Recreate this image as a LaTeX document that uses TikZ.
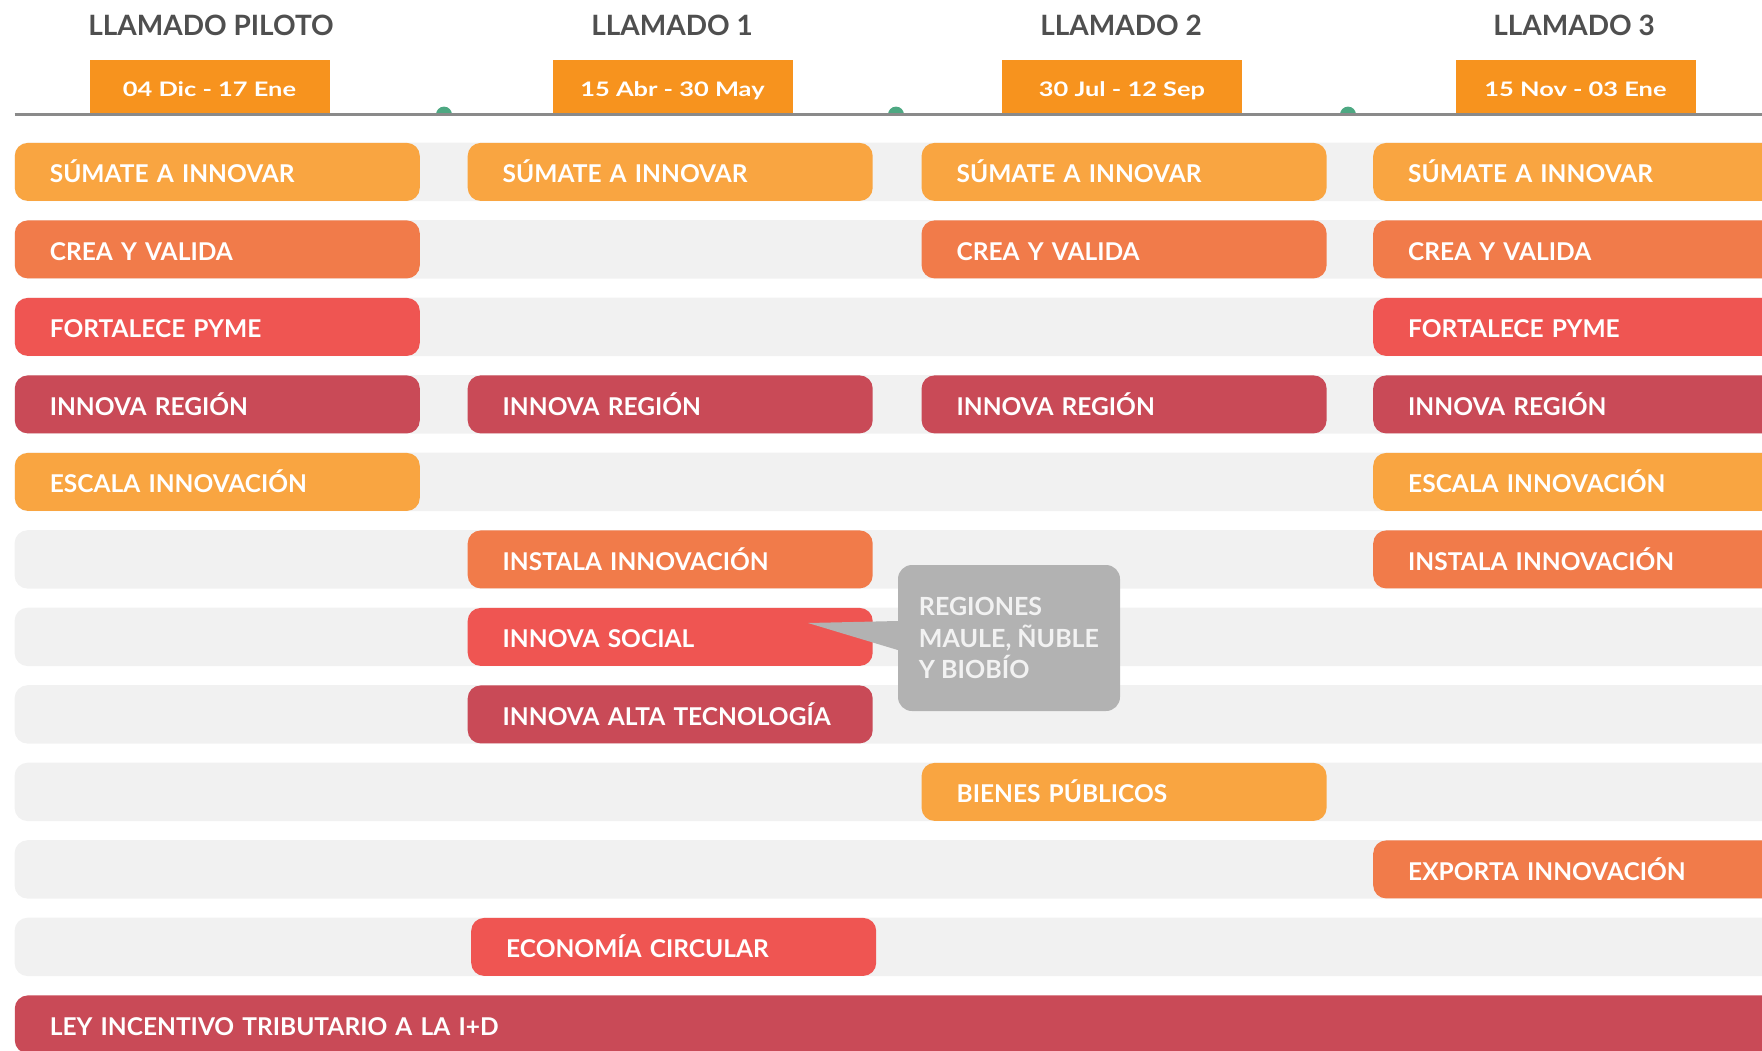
\documentclass[tikz,border=0pt]{standalone}
\usepackage{fontspec}
\setmainfont{Lato}
\definecolor{cA}{HTML}{F9A541}
\definecolor{cB}{HTML}{F17B4A}
\definecolor{cC}{HTML}{EF5552}
\definecolor{cD}{HTML}{C94A57}
\definecolor{dateor}{HTML}{F7931E}
\definecolor{rowgrey}{HTML}{F1F1F1}
\definecolor{hdr}{HTML}{4F4F4F}
\definecolor{tline}{HTML}{8A8A8A}
\definecolor{dotgreen}{HTML}{4DA882}
\definecolor{callgrey}{HTML}{B2B2B2}
\definecolor{calltext}{HTML}{F2F2F2}
\newcommand{\datetxt}[1]{\scalebox{1.27}[1]{#1}}
\begin{document}
\begin{tikzpicture}[x=1pt,y=-1pt,
  prog/.style={fill=#1, rounded corners=13pt, anchor=west, minimum height=58pt,
    inner xsep=35pt, inner ysep=0pt, text width=335pt, align=left,
    text height=21.5pt, text depth=0pt, text=white,
    font=\fontsize{24.5}{27}\selectfont\bfseries},
  wide/.style={text width=420pt},
  hdrtext/.style={text=hdr, font=\fontsize{28}{30}\selectfont\bfseries, inner sep=0pt,
    text height=20pt, text depth=0pt},
  datebox/.style={fill=dateor, minimum width=240pt, minimum height=54.5pt, inner sep=0pt,
    text=white, font=\fontsize{20}{24}\selectfont\bfseries, text height=18.4pt, text depth=0pt},
  rowbar/.style={fill=rowgrey, rounded corners=13pt},
  callout/.style={fill=callgrey, rounded corners=14pt, minimum width=222pt, minimum height=146pt,
    inner sep=0pt, align=left, text=calltext,
    font=\fontsize{25}{31.5}\selectfont\bfseries}
]
\useasboundingbox (0,0) rectangle (1762,1050);
\clip (0,0) rectangle (1762,1050);

% row backgrounds
\foreach \i in {0,...,10}{
  \pgfmathsetmacro{\yc}{171.9+77.5*\i}
  \fill[rowbar] (14.6,\yc-29.2) rectangle (1800,\yc+29.2);
}

% headers and dates
\node[hdrtext] (h0) at (211,25) {LLAMADO PILOTO};
\node[hdrtext] (h1) at (672,25) {LLAMADO 1};
\node[hdrtext] (h2) at (1121,25) {LLAMADO 2};
\node[hdrtext] (h3) at (1574,25) {LLAMADO 3};
\node[datebox] (d0) at (209.5,87.7) {\datetxt{04 Dic - 17 Ene}};
\node[datebox] (d1) at (672.5,87.7) {\datetxt{15 Abr - 30 May}};
\node[datebox] (d2) at (1122,87.7) {\datetxt{30 Jul - 12 Sep}};
\node[datebox] (d3) at (1575.5,87.7) {\datetxt{15 Nov - 03 Ene}};

% green markers
\begin{scope}
  \clip (0,0) rectangle (1762,114.6);
  \foreach \x in {444,896,1348}{\fill[dotgreen] (\x,114.6) circle[radius=8pt];}
\end{scope}
\coordinate (tl0) at (14.6,114.6);
\coordinate (tl1) at (1762,114.6);
\draw[tline, line width=2.5pt] (tl0) -- (tl1);

% column 0 (piloto)
\node[prog=cA] (p0a) at (14.6,171.9) {SÚMATE A INNOVAR};
\node[prog=cB] (p0b) at (14.6,249.4) {CREA Y VALIDA};
\node[prog=cC] (p0c) at (14.6,326.9) {FORTALECE PYME};
\node[prog=cD] (p0d) at (14.6,404.4) {INNOVA REGIÓN};
\node[prog=cA] (p0e) at (14.6,481.9) {ESCALA INNOVACIÓN};

% column 1
\node[prog=cA] (p1a) at (467.5,171.9) {SÚMATE A INNOVAR};
\node[prog=cD] (p1d) at (467.5,404.4) {INNOVA REGIÓN};
\node[prog=cB] (p1f) at (467.5,559.4) {INSTALA INNOVACIÓN};
\node[prog=cC] (p1g) at (467.5,636.9) {INNOVA SOCIAL};
\node[prog=cD] (p1h) at (467.5,714.4) {INNOVA ALTA TECNOLOGÍA};
\node[prog=cC] (p1k) at (471,946.9) {ECONOMÍA CIRCULAR};

% column 2
\node[prog=cA] (p2a) at (921.4,171.9) {SÚMATE A INNOVAR};
\node[prog=cB] (p2b) at (921.4,249.4) {CREA Y VALIDA};
\node[prog=cD] (p2d) at (921.4,404.4) {INNOVA REGIÓN};
\node[prog=cA] (p2i) at (921.4,791.9) {BIENES PÚBLICOS};

% column 3
\node[prog=cA, wide] (p3a) at (1373,171.9) {SÚMATE A INNOVAR};
\node[prog=cB, wide] (p3b) at (1373,249.4) {CREA Y VALIDA};
\node[prog=cC, wide] (p3c) at (1373,326.9) {FORTALECE PYME};
\node[prog=cD, wide] (p3d) at (1373,404.4) {INNOVA REGIÓN};
\node[prog=cA, wide] (p3e) at (1373,481.9) {ESCALA INNOVACIÓN};
\node[prog=cB, wide] (p3f) at (1373,559.4) {INSTALA INNOVACIÓN};
\node[prog=cB, wide] (p3j) at (1373,869.4) {EXPORTA INNOVACIÓN};

% bottom full-width bar
\node[prog=cD, text width=1760pt] (ley) at (14.6,1024.4) {LEY INCENTIVO TRIBUTARIO A LA I+D};

% callout
\node[callout] (call) at (1009,638) {REGIONES\\MAULE, ÑUBLE\\Y BIOBÍO};
\coordinate (tip) at (808,623);
\fill[callgrey] (tip) -- (call.west |- 0,621) -- (call.west |- 0,650) -- cycle;
\end{tikzpicture}
\end{document}
